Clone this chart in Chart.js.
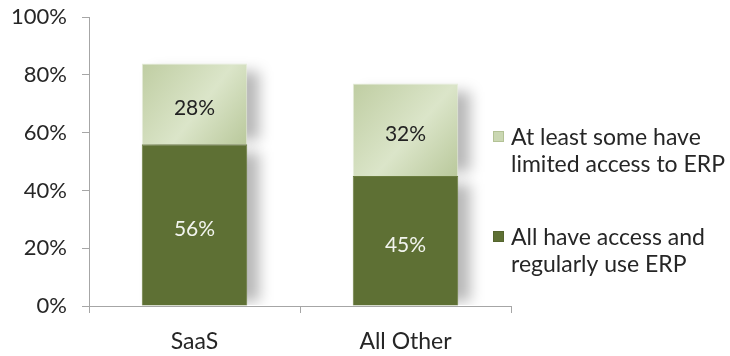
<!DOCTYPE html>
<html>
<head>
<meta charset="utf-8">
<script src="https://cdn.jsdelivr.net/npm/chart.js@4/dist/chart.umd.min.js"></script>
<style>
  html, body { margin: 0; padding: 0; background: #fff; }
  #wrap { width: 730px; height: 356px; }
</style>
</head>
<body>
<div id="wrap"><canvas id="erpChart" width="730" height="356"></canvas></div>
<script>
const categories = ['SaaS', 'All Other'];
const regularUse = [56, 45];
const limitedAccess = [28, 32];
const yTicks = [0, 20, 40, 60, 80, 100];
const legendLabels = [
  ['At least some have', 'limited access to ERP'],
  ['All have access and', 'regularly use ERP']
];

const FONT = 'Lato, "Open Sans", sans-serif';
const DARK = '#5e7034';

// gradient for the light segment, built from the scales
function lightFill(context) {
  const chart = context.chart;
  const xs = chart.scales.x, ys = chart.scales.y;
  const i = context.dataIndex;
  if (!chart.chartArea || !xs || !ys || i === undefined) return '#cfdcb8';
  const half = (xs.getPixelForValue(1) - xs.getPixelForValue(0)) / 4;
  const cx = xs.getPixelForValue(i);
  const top = ys.getPixelForValue(regularUse[i] + limitedAccess[i]);
  const bottom = ys.getPixelForValue(regularUse[i]);
  if (![half, cx, top, bottom].every(Number.isFinite)) return '#cfdcb8';
  const g = chart.ctx.createLinearGradient(cx - half, top, cx + half, bottom);
  g.addColorStop(0, '#bfcda2');
  g.addColorStop(0.55, '#dbe5c9');
  g.addColorStop(1, '#b9c89b');
  return g;
}

// soft drop shadow to the right of each segment
const shadowPlugin = {
  id: 'barShadow',
  beforeDatasetsDraw(chart) {
    const ctx = chart.ctx;
    const a = chart.chartArea;
    ctx.save();
    ctx.beginPath();
    ctx.rect(a.left + 1, 0, chart.width, a.bottom - 1);
    ctx.clip();
    ctx.filter = 'blur(7px)';
    ctx.fillStyle = 'rgba(0,0,0,0.28)';
    chart.data.datasets.forEach((ds, i) => {
      chart.getDatasetMeta(i).data.forEach(bar => {
        const x0 = bar.x - bar.width / 2;
        const top = Math.min(bar.y, bar.base);
        const h = Math.abs(bar.base - bar.y);
        ctx.fillRect(x0 + 12, top + 8, bar.width, h - 12);
      });
    });
    ctx.restore();
  }
};

const valueLabels = {
  id: 'valueLabels',
  afterDatasetsDraw(chart) {
    const ctx = chart.ctx;
    ctx.save();
    ctx.font = '21px ' + FONT;
    ctx.textAlign = 'center';
    ctx.textBaseline = 'middle';
    chart.data.datasets.forEach((ds, i) => {
      chart.getDatasetMeta(i).data.forEach((bar, j) => {
        const mid = (bar.y + bar.base) / 2;
        ctx.fillStyle = i === 0 ? '#f2f4ee' : '#222';
        ctx.fillText(ds.data[j] + '%', bar.x, mid + 4);
      });
    });
    ctx.restore();
  }
};

const sideLegend = {
  id: 'sideLegend',
  afterDraw(chart) {
    const ctx = chart.ctx;
    ctx.save();
    ctx.font = '23px ' + FONT;
    ctx.textBaseline = 'middle';
    const items = [
      { text: legendLabels[0], y: 137, color: '#cad7b2', stroke: '#b3c295' },
      { text: legendLabels[1], y: 237, color: DARK, stroke: '#55652e' }
    ];
    items.forEach(it => {
      ctx.fillStyle = it.color;
      ctx.fillRect(493, it.y - 6, 11, 11);
      ctx.strokeStyle = it.stroke;
      ctx.lineWidth = 1;
      ctx.strokeRect(493.5, it.y - 5.5, 10, 10);
      ctx.fillStyle = '#262626';
      it.text.forEach((line, k) => ctx.fillText(line, 511, it.y + 1 + k * 27));
    });
    ctx.restore();
  }
};

new Chart(document.getElementById('erpChart'), {
  type: 'bar',
  data: {
    labels: categories,
    datasets: [
      {
        label: legendLabels[1].join(' '),
        data: regularUse,
        backgroundColor: DARK,
        borderColor: '#6a7c3e',
        borderWidth: 1,
        barPercentage: 0.5,
        categoryPercentage: 1.0
      },
      {
        label: legendLabels[0].join(' '),
        data: limitedAccess,
        backgroundColor: lightFill,
        borderColor: '#e6eddb',
        borderWidth: 1,
        barPercentage: 0.5,
        categoryPercentage: 1.0
      }
    ]
  },
  options: {
    responsive: false,
    animation: false,
    layout: { padding: { top: 0, right: 219, left: 0, bottom: 0 } },
    plugins: {
      legend: { display: false },
      tooltip: { enabled: false }
    },
    scales: {
      x: {
        stacked: true,
        afterFit(scale) { scale.height = 50; },
        grid: {
          offset: true,
          drawOnChartArea: false,
          drawTicks: true,
          tickLength: 7,
          color: '#a6a6a6'
        },
        border: { color: '#a6a6a6', width: 1 },
        ticks: {
          color: '#262626',
          font: { family: FONT, size: 23 },
          padding: 15
        }
      },
      y: {
        stacked: true,
        min: 0,
        max: 100,
        afterFit(scale) { scale.width = 89; },
        afterBuildTicks(scale) { scale.ticks = yTicks.map(v => ({ value: v })); },
        grid: {
          drawOnChartArea: false,
          drawTicks: true,
          tickLength: 7,
          color: '#a6a6a6'
        },
        border: { color: '#a6a6a6', width: 1 },
        ticks: {
          color: '#262626',
          font: { family: FONT, size: 22, lineHeight: 0.2 },
          padding: 15,
          callback: v => v + '%'
        }
      }
    }
  },
  plugins: [shadowPlugin, valueLabels, sideLegend]
});
</script>
</body>
</html>
